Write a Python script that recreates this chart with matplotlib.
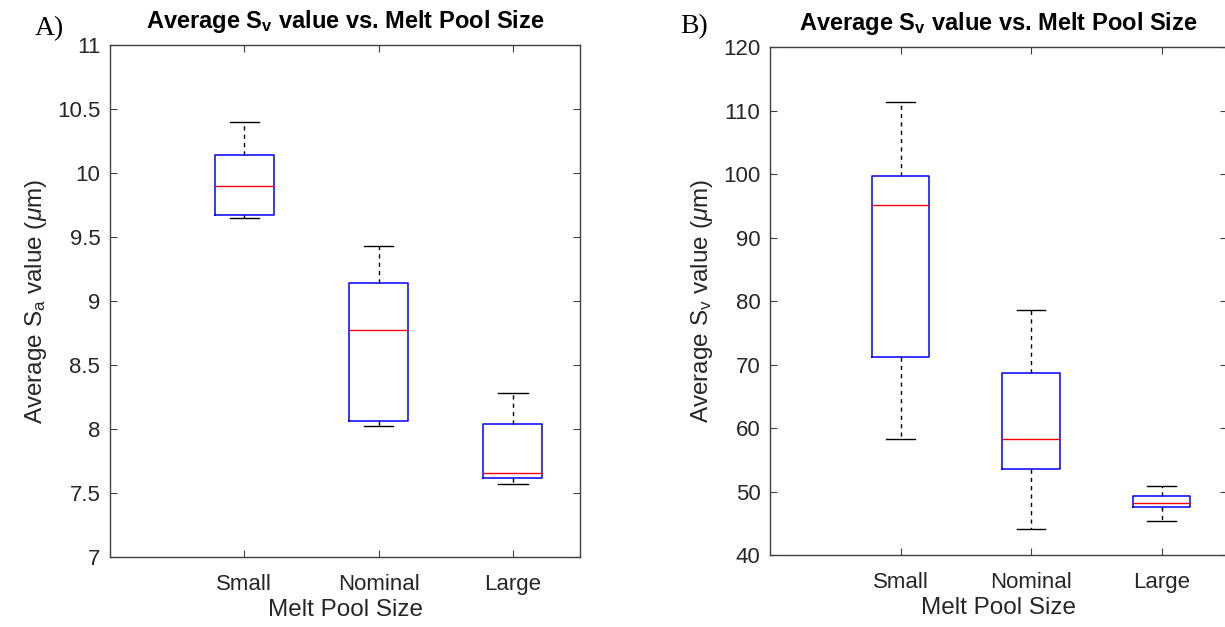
import matplotlib
matplotlib.use("Agg")
import matplotlib.pyplot as plt

plt.rcParams['font.family'] = ['Liberation Sans', 'DejaVu Sans']
plt.rcParams['mathtext.fontset'] = 'custom'
plt.rcParams['mathtext.rm'] = 'Liberation Sans'
plt.rcParams['mathtext.it'] = 'Liberation Sans:italic'
plt.rcParams['mathtext.bf'] = 'Liberation Sans:bold'

sizes = ['Small', 'Nominal', 'Large']

# panel A: Sa (um)
sa_low = [9.65, 8.02, 7.57]
sa_q1 = [9.67, 8.06, 7.62]
sa_med = [9.90, 8.77, 7.66]
sa_q3 = [10.14, 9.14, 8.04]
sa_high = [10.40, 9.43, 8.28]

# panel B: Sv (um)
sv_low = [58.2, 44.1, 45.4]
sv_q1 = [71.2, 53.5, 47.5]
sv_med = [95.2, 58.2, 48.2]
sv_q3 = [99.7, 68.7, 49.3]
sv_high = [111.4, 78.6, 50.8]

axis_col = '#404040'


def make_stats(lo, q1, med, q3, hi):
    stats = []
    for i in range(len(sizes)):
        stats.append({'whislo': lo[i], 'q1': q1[i], 'med': med[i],
                      'q3': q3[i], 'whishi': hi[i], 'fliers': [],
                      'label': sizes[i]})
    return stats


def draw_panel(ax, stats, ylim, yticks, ylabel):
    ax.bxp(stats, positions=[1, 2, 3], widths=0.44, showfliers=False,
           boxprops=dict(color='#0000ff', linewidth=1.1),
           medianprops=dict(color='#ff0000', linewidth=1.0),
           whiskerprops=dict(color='black', linewidth=1.0, linestyle=(0, (3, 3))),
           capprops=dict(color='black', linewidth=1.0))
    ax.set_xlim(0, 3.5)
    ax.set_ylim(*ylim)
    ax.set_yticks(yticks)
    ax.set_yticklabels([('%g' % t) for t in yticks])
    ax.set_xticks([1, 2, 3])
    ax.set_xticklabels(sizes)
    ax.tick_params(direction='in', top=True, right=True, length=5,
                   color=axis_col, labelsize=16, labelcolor='#262626')
    ax.tick_params(axis='x', pad=12)
    ax.tick_params(axis='y', pad=7)
    for s in ax.spines.values():
        s.set_color(axis_col)
        s.set_linewidth(1.0)
    ax.set_xlabel('Melt Pool Size', fontsize=17.5, color='#262626', labelpad=3)
    ax.set_ylabel(ylabel, fontsize=17.5, color='#262626', labelpad=6)
    ax.set_title(r'Average $\mathbf{S_v}$ value vs. Melt Pool Size',
                 fontsize=17, fontweight='bold', pad=12)


fig = plt.figure(figsize=(12.25, 6.27), dpi=100)
ax1 = fig.add_axes([0.0898, 0.1116, 0.3837, 0.8166])
ax2 = fig.add_axes([0.6286, 0.1148, 0.3730, 0.8102])

draw_panel(ax1, make_stats(sa_low, sa_q1, sa_med, sa_q3, sa_high),
           (7, 11), [7, 7.5, 8, 8.5, 9, 9.5, 10, 10.5, 11],
           r'Average S$_\mathregular{a}$ value ($\mu$m)')
draw_panel(ax2, make_stats(sv_low, sv_q1, sv_med, sv_q3, sv_high),
           (40, 120), [40, 50, 60, 70, 80, 90, 100, 110, 120],
           r'Average S$_\mathregular{v}$ value ($\mu$m)')

fig.text(0.028, 0.955, 'A)', fontsize=20, family='Liberation Serif', va='center')
fig.text(0.555, 0.958, 'B)', fontsize=20, family='Liberation Serif', va='center')

fig.savefig('out.png', dpi=100)
